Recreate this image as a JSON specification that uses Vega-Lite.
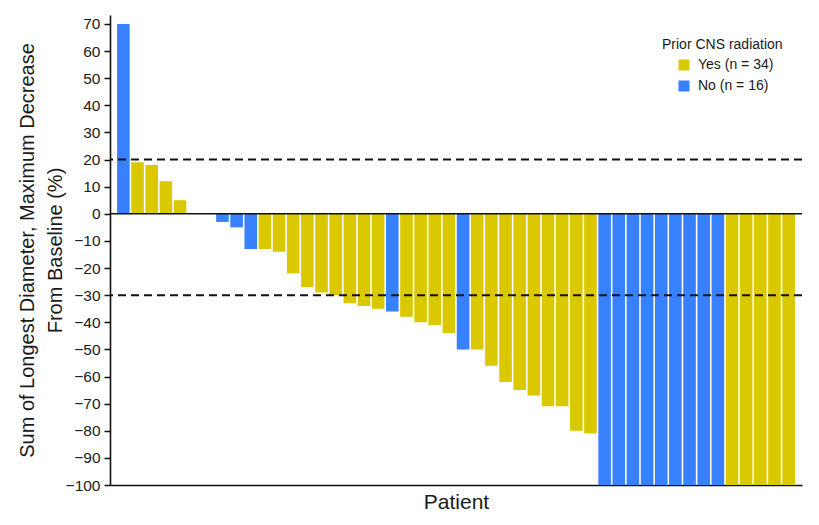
{
  "$schema": "https://vega.github.io/schema/vega-lite/v6.json",
  "width": 692,
  "height": 470,
  "autosize": {"type": "none"},
  "padding": {"left": 110, "top": 15, "right": 17, "bottom": 40},
  "background": "white",
  "config": {
    "view": {"stroke": null},
    "font": "Liberation Sans",
    "axis": {"grid": false, "domainColor": "#111", "domainWidth": 1.6, "tickColor": "#111", "tickWidth": 1.5, "labelColor": "#1a1a1a", "titleColor": "#1a1a1a", "titleFontWeight": "normal", "titleFont": "Liberation Sans", "labelFont": "Liberation Sans"}
  },
  "data": {
    "values": [
      {"patient": 1, "change": 70, "prior": "No (n = 16)"},
      {"patient": 2, "change": 19, "prior": "Yes (n = 34)"},
      {"patient": 3, "change": 18, "prior": "Yes (n = 34)"},
      {"patient": 4, "change": 12, "prior": "Yes (n = 34)"},
      {"patient": 5, "change": 5, "prior": "Yes (n = 34)"},
      {"patient": 6, "change": 0, "prior": "Yes (n = 34)"},
      {"patient": 7, "change": 0, "prior": "Yes (n = 34)"},
      {"patient": 8, "change": -3, "prior": "No (n = 16)"},
      {"patient": 9, "change": -5, "prior": "No (n = 16)"},
      {"patient": 10, "change": -13, "prior": "No (n = 16)"},
      {"patient": 11, "change": -13, "prior": "Yes (n = 34)"},
      {"patient": 12, "change": -14, "prior": "Yes (n = 34)"},
      {"patient": 13, "change": -22, "prior": "Yes (n = 34)"},
      {"patient": 14, "change": -27, "prior": "Yes (n = 34)"},
      {"patient": 15, "change": -29, "prior": "Yes (n = 34)"},
      {"patient": 16, "change": -30, "prior": "Yes (n = 34)"},
      {"patient": 17, "change": -33, "prior": "Yes (n = 34)"},
      {"patient": 18, "change": -34, "prior": "Yes (n = 34)"},
      {"patient": 19, "change": -35, "prior": "Yes (n = 34)"},
      {"patient": 20, "change": -36, "prior": "No (n = 16)"},
      {"patient": 21, "change": -38, "prior": "Yes (n = 34)"},
      {"patient": 22, "change": -40, "prior": "Yes (n = 34)"},
      {"patient": 23, "change": -41, "prior": "Yes (n = 34)"},
      {"patient": 24, "change": -44, "prior": "Yes (n = 34)"},
      {"patient": 25, "change": -50, "prior": "No (n = 16)"},
      {"patient": 26, "change": -50, "prior": "Yes (n = 34)"},
      {"patient": 27, "change": -56, "prior": "Yes (n = 34)"},
      {"patient": 28, "change": -62, "prior": "Yes (n = 34)"},
      {"patient": 29, "change": -65, "prior": "Yes (n = 34)"},
      {"patient": 30, "change": -67, "prior": "Yes (n = 34)"},
      {"patient": 31, "change": -71, "prior": "Yes (n = 34)"},
      {"patient": 32, "change": -71, "prior": "Yes (n = 34)"},
      {"patient": 33, "change": -80, "prior": "Yes (n = 34)"},
      {"patient": 34, "change": -81, "prior": "Yes (n = 34)"},
      {"patient": 35, "change": -100, "prior": "No (n = 16)"},
      {"patient": 36, "change": -100, "prior": "No (n = 16)"},
      {"patient": 37, "change": -100, "prior": "No (n = 16)"},
      {"patient": 38, "change": -100, "prior": "No (n = 16)"},
      {"patient": 39, "change": -100, "prior": "No (n = 16)"},
      {"patient": 40, "change": -100, "prior": "No (n = 16)"},
      {"patient": 41, "change": -100, "prior": "No (n = 16)"},
      {"patient": 42, "change": -100, "prior": "No (n = 16)"},
      {"patient": 43, "change": -100, "prior": "No (n = 16)"},
      {"patient": 44, "change": -100, "prior": "Yes (n = 34)"},
      {"patient": 45, "change": -100, "prior": "Yes (n = 34)"},
      {"patient": 46, "change": -100, "prior": "Yes (n = 34)"},
      {"patient": 47, "change": -100, "prior": "Yes (n = 34)"},
      {"patient": 48, "change": -100, "prior": "Yes (n = 34)"}
    ]
  },
  "encoding": {
    "y": {
      "field": "change",
      "type": "quantitative",
      "scale": {"domain": [-100, 73.3], "nice": false, "zero": false},
      "axis": {
        "title": ["Sum of Longest Diameter, Maximum Decrease", "From Baseline (%)"],
        "titleFontSize": 20,
        "titleLineHeight": 28,
        "titlePadding": 0,
        "values": [-100, -90, -80, -70, -60, -50, -40, -30, -20, -10, 0, 10, 20, 30, 40, 50, 60, 70],
        "labelOverlap": false,
        "labelFontSize": 15.5,
        "labelPadding": 4,
        "tickSize": 6
      }
    }
  },
  "layer": [
    {
      "mark": {"type": "bar"},
      "encoding": {
        "x": {
          "field": "patient",
          "type": "ordinal",
          "scale": {"paddingInner": 0.11, "paddingOuter": 0.5},
          "axis": {"title": "Patient", "labels": false, "ticks": false, "domain": true, "titleFontSize": 21, "titlePadding": 6}
        },
        "color": {
          "field": "prior",
          "type": "nominal",
          "scale": {"domain": ["Yes (n = 34)", "No (n = 16)"], "range": ["#DAC800", "#3781FF"]},
          "legend": {
            "title": "Prior CNS radiation",
            "orient": "none",
            "legendX": 552,
            "legendY": 23,
            "titleFontSize": 14,
            "titleFontWeight": "normal",
            "titleColor": "#1a1a1a",
            "titlePadding": 6,
            "labelFontSize": 14,
            "labelColor": "#1a1a1a",
            "labelOffset": 7,
            "symbolType": "square",
            "symbolSize": 121,
            "symbolStrokeWidth": 0,
            "symbolOpacity": 1,
            "symbolOffset": 15,
            "rowPadding": 7
          }
        }
      }
    },
    {
      "data": {"values": [{"change": 0}]},
      "mark": {"type": "rule", "color": "#111", "strokeWidth": 1.6},
      "encoding": {}
    },
    {
      "data": {"values": [{"change": 20}, {"change": -30}]},
      "mark": {"type": "rule", "color": "#111", "strokeWidth": 2, "strokeDash": [8, 5]},
      "encoding": {}
    }
  ]
}
